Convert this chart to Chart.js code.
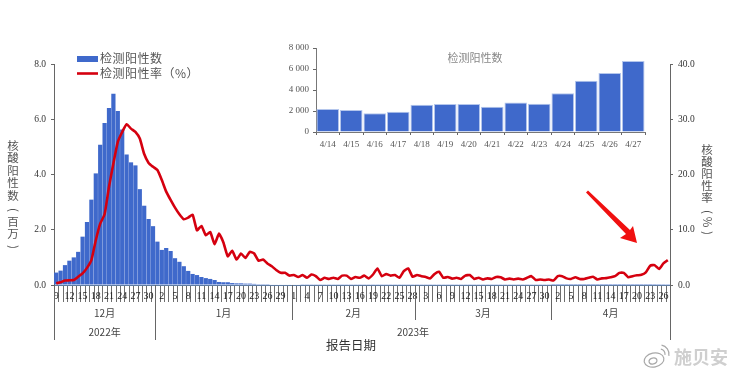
<!DOCTYPE html>
<html>
<head>
<meta charset="utf-8">
<script src="https://cdn.jsdelivr.net/npm/chart.js@4"></script>
<style>
  html, body { margin: 0; padding: 0; background: #fff; overflow: hidden; }
  canvas { position: absolute; left: 0; top: 0; }
</style>
</head>
<body>
<canvas id="chart" width="739" height="376"></canvas>
<canvas id="inset" width="739" height="376"></canvas>
<script>
// day of month for each report date, 2022-12-09 .. 2023-04-27
const days = [
  9,10,11,12,13,14,15,16,17,18,19,20,21,22,23,24,25,26,27,28,29,30,31,
  1,2,3,4,5,6,7,8,9,10,11,12,13,14,15,16,17,18,19,20,21,22,23,24,25,26,27,28,29,30,31,
  1,2,3,4,5,6,7,8,9,10,11,12,13,14,15,16,17,18,19,20,21,22,23,24,25,26,27,28,
  1,2,3,4,5,6,7,8,9,10,11,12,13,14,15,16,17,18,19,20,21,22,23,24,25,26,27,28,29,30,31,
  1,2,3,4,5,6,7,8,9,10,11,12,13,14,15,16,17,18,19,20,21,22,23,24,25,26,27
];
// positives, millions
const positives = [
  0.45,0.52,0.72,0.88,1.0,1.2,1.75,2.28,3.09,4.04,5.08,5.86,6.41,6.92,6.3,5.63,4.72,4.44,4.33,3.47,2.87,2.39,2.13,
  1.57,1.27,1.34,1.23,0.97,0.84,0.68,0.51,0.40,0.36,0.29,0.25,0.22,0.18,0.11,0.1,0.1,0.07,0.06,0.06,0.05,0.05,0.04,0.03,0.03,0.03,0.02,0.02,0.02,0.02,0.02,
  0.02,0.02,0.01,0.01,0.01,0.01,0.01,0.01,0.01,0.01,0.01,0.01,0.01,0.01,0.01,0.01,0.01,0.01,0.01,0.01,0.01,0.01,0.01,0.01,0.01,0.01,0.01,0.01,
  0.01,0.01,0.01,0.01,0.01,0.01,0.01,0.01,0.01,0.01,0.01,0.01,0.01,0.01,0.01,0.01,0.01,0.01,0.01,0.01,0.01,0.01,0.01,0.01,0.01,0.01,0.01,0.01,0.01,0.01,0.01,
  0.002,0.002,0.002,0.002,0.002,0.002,0.002,0.002,0.002,0.002,0.002,0.002,0.002,0.0022,0.0021,0.0018,0.0019,0.0026,0.0027,0.0027,0.0024,0.0028,0.0027,0.0037,0.0049,0.0056,0.0068
];
// positive rate, %
const rate = [
  0.3,0.5,0.8,0.85,0.9,1.5,2.1,3.1,4.5,8.1,11.1,12.8,17.8,22,25.9,27.7,29.1,28.3,27.7,26.5,23.7,22.1,21.4,
  20.8,19,16.9,15.4,14,12.8,11.9,12.2,12.7,9.9,10.7,9,9.6,7.4,9.3,7.7,5.2,6.2,4.6,5.7,4.9,6,5.7,4.4,4.6,3.9,3.4,2.7,2.2,2.2,1.7,
  1.8,1.45,1.8,1.3,1.9,1.6,0.9,1.3,1.1,1.3,1.1,1.7,1.7,1.1,1.45,1.3,1.7,1.2,1.9,3.0,1.6,2.0,1.7,1.8,1.3,2.5,3.0,1.5,
  1.8,1.6,1.45,1.2,2.0,2.4,1.3,1.45,1.15,1.3,1.1,1.7,1.8,1.1,1.3,1.0,1.2,1.1,1.45,1.4,1.0,1.15,1.0,1.15,1.0,1.3,1.6,0.9,1.0,0.9,1.0,
  0.8,1.6,1.6,1.2,1.1,1.4,1.1,1.1,1.3,1.5,1.0,1.2,1.25,1.4,1.6,2.2,2.2,1.4,1.6,1.75,1.85,2.3,3.5,3.6,2.9,3.9,4.5
];
const insetDays = ['4/14','4/15','4/16','4/17','4/18','4/19','4/20','4/21','4/22','4/23','4/24','4/25','4/26','4/27'];
const insetPositives = [2200,2100,1780,1930,2600,2670,2670,2410,2800,2700,3680,4890,5620,6760];
const months = ['12月','1月','2月','3月','4月'];
const monthStarts = [0,23,54,82,113];   // index of first day of month
const years = ['2022年','2023年'];

const BLUE = '#3f69cb';
const RED = '#d5000f';
const SERIF = '"Liberation Serif", serif';
const CJK = '"Noto Sans CJK SC", sans-serif';

// vertical axis title, brackets and % are turned on their side
function columnText(ctx, chars, x, ys) {
  ctx.fillStyle = '#555';
  ctx.font = '11.5px ' + CJK;
  ctx.textAlign = 'center';
  ctx.textBaseline = 'middle';
  chars.forEach((c, i) => {
    if ('()%'.includes(c)) {
      ctx.save();
      ctx.translate(x, ys[i]);
      ctx.rotate(Math.PI / 2);
      ctx.fillText(c, 0, 0);
      ctx.restore();
    } else {
      ctx.fillText(c, x, ys[i]);
    }
  });
}

const extras = {
  id: 'extras',
  // daily tick marks go under the tick labels
  beforeDraw(chart) {
    const { ctx, scales } = chart;
    const x = scales.x;
    const step = x.getPixelForValue(1) - x.getPixelForValue(0);
    ctx.save();
    ctx.strokeStyle = '#6e6e6e';
    ctx.lineWidth = 1;
    for (let i = 0; i <= days.length; i++) {
      const px = Math.round(x.getPixelForValue(i) - step / 2) + 0.5;
      ctx.beginPath();
      ctx.moveTo(px, scales.y.bottom);
      ctx.lineTo(px, 302);
      ctx.stroke();
    }
    ctx.restore();
  },
  afterDraw(chart) {
    const { ctx, scales } = chart;
    const x = scales.x;
    const base = scales.y.bottom;
    const step = x.getPixelForValue(1) - x.getPixelForValue(0);
    const edge = i => x.getPixelForValue(i) - step / 2;
    ctx.save();

    // month and year separators under the axis
    ctx.strokeStyle = '#666';
    ctx.lineWidth = 1;
    const seps = [[0, 340], [23, 340], [54, 320], [82, 320], [113, 320], [140, 340]];
    seps.forEach(([i, end]) => {
      const px = Math.round(edge(i)) + 0.5;
      ctx.beginPath();
      ctx.moveTo(px, base);
      ctx.lineTo(px, end);
      ctx.stroke();
    });

    ctx.fillStyle = '#444';
    ctx.font = '10px ' + CJK;
    ctx.textAlign = 'center';
    ctx.textBaseline = 'middle';
    months.forEach((m, i) => {
      const end = i + 1 < months.length ? monthStarts[i + 1] : days.length;
      ctx.fillText(m, (edge(monthStarts[i]) + edge(end)) / 2, 313);
    });
    ctx.fillText(years[0], (edge(0) + edge(23)) / 2, 332);
    ctx.fillText(years[1], 413, 332);

    ctx.fillStyle = '#333';
    ctx.font = '12.5px ' + CJK;
    ctx.fillText('报告日期', 351, 345);

    // vertical axis titles
    columnText(ctx, ['核','酸','阳','性','数','(','百','万',')'], 13,
      [146, 158, 171, 183, 196, 210, 222, 234, 247]);
    columnText(ctx, ['核','酸','阳','性','率','(','%',')'], 707,
      [150, 162, 174, 186, 198, 212, 222, 233]);

    // legend
    ctx.fillStyle = BLUE;
    ctx.fillRect(77, 56, 21, 6);
    ctx.strokeStyle = RED;
    ctx.lineWidth = 2.6;
    ctx.beginPath();
    ctx.moveTo(77, 73.5);
    ctx.lineTo(98, 73.5);
    ctx.stroke();
    ctx.fillStyle = '#555';
    ctx.font = '12px ' + CJK;
    ctx.letterSpacing = '0.5px';
    ctx.textAlign = 'left';
    ctx.fillText('检测阳性数', 100, 58.5);
    ctx.fillText('检测阳性率（%）', 100, 73.5);
    ctx.letterSpacing = '0px';

    // red arrow added on top of the figure
    ctx.fillStyle = '#f01010';
    ctx.beginPath();
    [[586, 192.5], [588, 190.5], [630, 230], [633, 226], [637, 243], [620, 238], [626, 234]]
      .forEach(([a, b], i) => i ? ctx.lineTo(a, b) : ctx.moveTo(a, b));
    ctx.closePath();
    ctx.fill();

    // weibo watermark
    ctx.strokeStyle = '#a8a8a8';
    ctx.lineWidth = 1.2;
    ctx.beginPath();
    ctx.ellipse(654, 360, 10, 7, -0.2, 0, Math.PI * 2);
    ctx.stroke();
    ctx.beginPath();
    ctx.ellipse(653, 361, 4, 3, -0.2, 0, Math.PI * 2);
    ctx.stroke();
    ctx.beginPath();
    ctx.arc(660, 354, 5, -1.4, 0.2);
    ctx.stroke();
    ctx.beginPath();
    ctx.arc(660, 354, 9, -1.4, 0.2);
    ctx.stroke();
    ctx.fillStyle = '#cfcfcf';
    ctx.font = 'bold 18px ' + CJK;
    ctx.textAlign = 'left';
    ctx.fillText('施贝安', 674, 357);

    ctx.restore();
  }
};

new Chart(document.getElementById('chart'), {
  data: {
    labels: days,
    datasets: [
      {
        type: 'line',
        label: '检测阳性率（%）',
        data: rate,
        yAxisID: 'y1',
        borderColor: RED,
        borderWidth: 2.6,
        pointRadius: 0,
        tension: 0.15,
        order: 0
      },
      {
        type: 'bar',
        label: '检测阳性数',
        data: positives,
        yAxisID: 'y',
        backgroundColor: BLUE,
        barPercentage: 0.96,
        categoryPercentage: 1,
        order: 1
      }
    ]
  },
  options: {
    responsive: false,
    animation: false,
    layout: { padding: { left: 24, right: 39, top: 64, bottom: 0 } },
    plugins: { legend: { display: false }, tooltip: { enabled: false } },
    scales: {
      x: {
        afterFit(s) { s.height = 91; },
        border: { color: '#5f7da3', width: 1 },
        grid: { drawOnChartArea: false, drawTicks: false },
        ticks: {
          autoSkip: false,
          maxRotation: 0,
          padding: 5,
          color: '#222',
          font: { family: SERIF, size: 10 },
          callback(v, i) { return i % 3 === 0 ? days[i] : ''; }
        }
      },
      y: {
        position: 'left',
        min: 0,
        max: 8,
        afterFit(s) { s.width = 30; },
        border: { color: '#666' },
        grid: { drawOnChartArea: false, tickLength: 3, tickColor: '#666' },
        ticks: {
          stepSize: 2,
          padding: 5,
          color: '#333',
          font: { family: SERIF, size: 9.5 },
          callback(v) { return v.toFixed(1); }
        }
      },
      y1: {
        position: 'right',
        min: 0,
        max: 40,
        afterFit(s) { s.width = 30; },
        border: { color: '#666' },
        grid: { drawOnChartArea: false, tickLength: 3, tickColor: '#666' },
        ticks: {
          stepSize: 10,
          padding: 5,
          color: '#333',
          font: { family: SERIF, size: 9.5 },
          callback(v) { return v.toFixed(1); }
        }
      }
    }
  },
  plugins: [extras]
});

const insetTitle = {
  id: 'insetTitle',
  afterDraw(chart) {
    const { ctx } = chart;
    ctx.save();
    ctx.fillStyle = '#888';
    ctx.font = '11px ' + CJK;
    ctx.textAlign = 'center';
    ctx.textBaseline = 'middle';
    ctx.fillText('检测阳性数', 475, 58);
    ctx.restore();
  }
};

new Chart(document.getElementById('inset'), {
  type: 'bar',
  data: {
    labels: insetDays,
    datasets: [{
      data: insetPositives,
      backgroundColor: BLUE,
      borderColor: '#b4c6ec',
      borderWidth: 1,
      barPercentage: 0.96,
      categoryPercentage: 1
    }]
  },
  options: {
    responsive: false,
    animation: false,
    layout: { padding: { left: 276, right: 94, top: 48, bottom: 224 } },
    plugins: { legend: { display: false }, tooltip: { enabled: false } },
    scales: {
      x: {
        afterFit(s) { s.height = 20; },
        border: { color: '#777' },
        grid: { drawOnChartArea: false, tickLength: 3, tickColor: '#666' },
        ticks: {
          autoSkip: false,
          maxRotation: 0,
          padding: 4,
          color: '#555',
          font: { family: SERIF, size: 9 }
        }
      },
      y: {
        min: 0,
        max: 8000,
        afterFit(s) { s.width = 40; },
        border: { color: '#777' },
        grid: { drawOnChartArea: false, tickLength: 3, tickColor: '#666' },
        ticks: {
          stepSize: 2000,
          padding: 4,
          color: '#555',
          font: { family: SERIF, size: 9 },
          callback(v) { return v === 0 ? '0' : (v / 1000) + ' 000'; }
        }
      }
    }
  },
  plugins: [insetTitle]
});
</script>
</body>
</html>
